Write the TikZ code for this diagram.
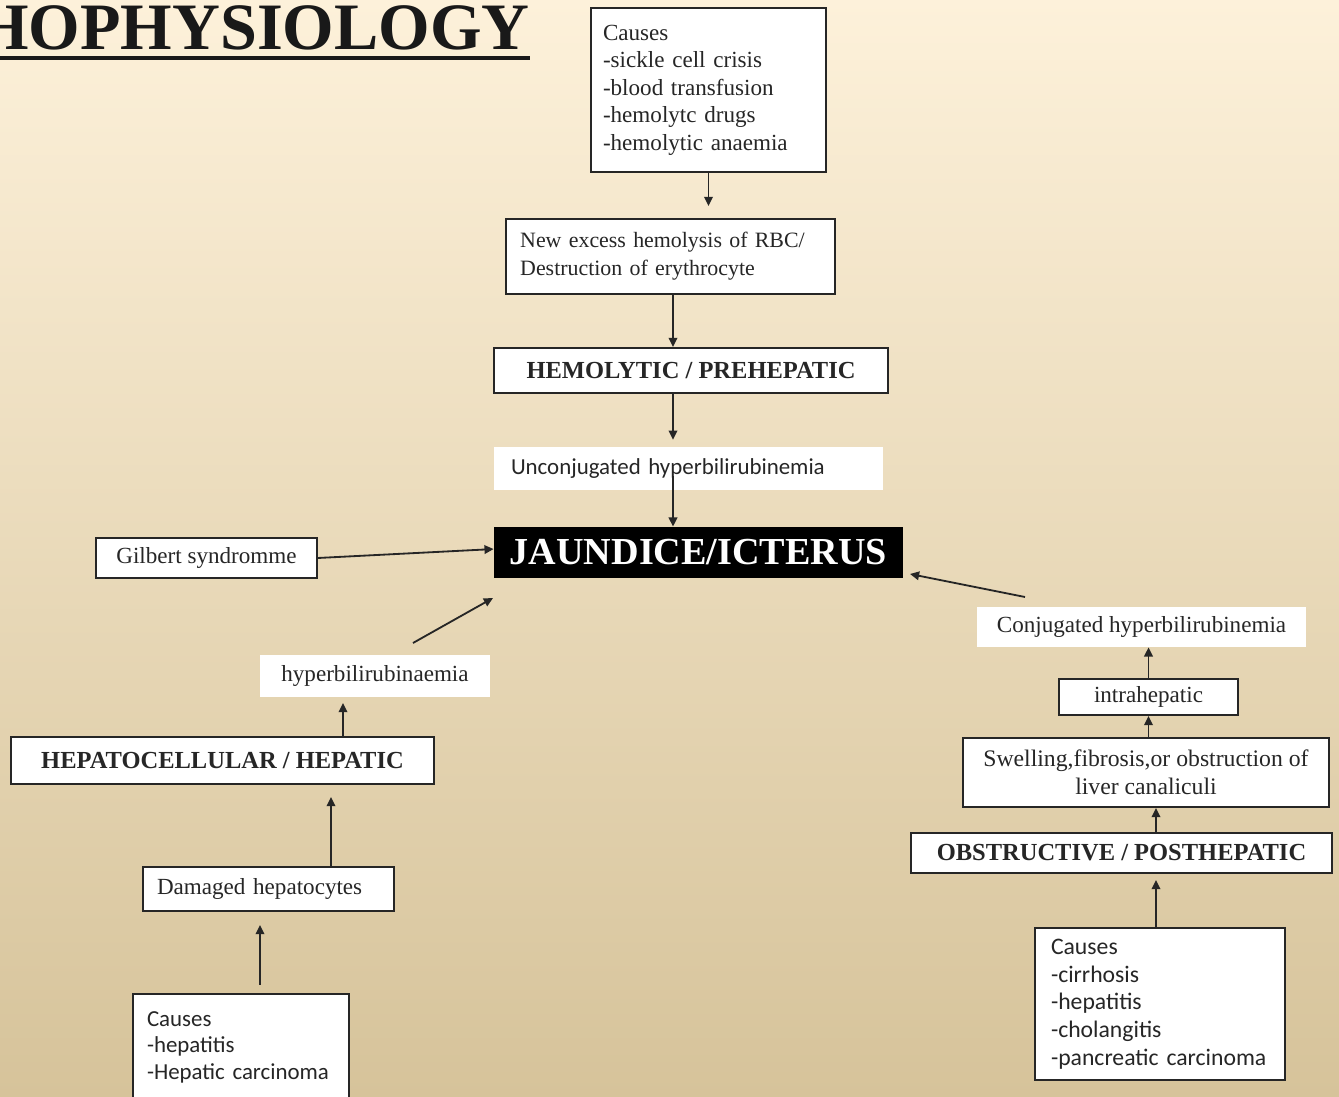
\documentclass[tikz,border=0pt]{standalone}
\usepackage{fontspec}
\setmainfont{Liberation Serif}
\newfontfamily\calibrifont{Carlito}
\usetikzlibrary{arrows.meta}

\definecolor{bgtop}{RGB}{253,241,218}
\definecolor{bgmid}{RGB}{243,231,203}
\definecolor{bgbot}{RGB}{214,195,154}
\definecolor{inkgray}{RGB}{38,38,38}

\begin{document}
\begin{tikzpicture}[
    boxnode/.style={draw=inkgray, line width=0.035cm, fill=white, inner sep=0pt, text=inkgray,
                    font=\fontsize{11.5}{14}\selectfont},
    plainnode/.style={fill=white, inner sep=0pt, text=inkgray, font=\fontsize{11.5}{14}\selectfont},
    headnode/.style={boxnode, font=\bfseries\fontsize{12.2}{14}\selectfont},
    listnode/.style={boxnode, align=left},
    sansnode/.style={listnode, font=\calibrifont\fontsize{11.4}{13.6}\selectfont},
    arrow/.style={line width=0.032cm, draw=inkgray, -{Triangle[length=0.16cm,width=0.15cm]}}]
                    \useasboundingbox (0,0) rectangle (23.432500,19.197500);%
                    \fill [top color=bgtop, middle color=bgmid, bottom color=bgbot] (0,0) rectangle (23.432500,19.197500);%

                    % Drawing title, cut at the left edge
                    \node (title) [anchor=base east, inner sep=0pt, text=black!90,
                      font=\bfseries\fontsize{33}{36}\selectfont] at (9.275000,18.322500) {HOPHYSIOLOGY};%
                    \coordinate (titleline) at (0.000000,18.182500);%
                    \draw [line width=0.07cm, black!90] (titleline) -- (titleline -| title.east);%

                    % Drawing box causes (prehepatic)
                    \node (causesA) [listnode, text width=3.692500cm, inner xsep=0.210000cm, minimum height=2.870000cm,
                      font=\fontsize{11.5}{13.7}\selectfont] at (12.398750,17.622500)
                      {Causes\\-sickle cell crisis\\-blood transfusion\\-hemolytc drugs\\-hemolytic anaemia};%

                    % Drawing box new excess hemolysis
                    \node (newexcess) [listnode, text width=5.400000cm, inner xsep=0.178750cm, minimum height=1.312500cm,
                      font=\fontsize{10.9}{14}\selectfont] at (11.733750,14.708750)
                      {\hspace*{0.07cm}New excess hemolysis of RBC/\\\hspace*{0.07cm}Destruction of erythrocyte};%

                    % Drawing box HEMOLYTIC / PREHEPATIC
                    \node (hemolytic) [headnode, minimum width=6.895000cm, minimum height=0.787500cm]
                      at (12.092500,12.713750) {HEMOLYTIC / PREHEPATIC};%

                    % Drawing label unconjugated
                    \node (unconj) [plainnode, align=left, text width=6.212500cm, inner xsep=0.297500cm, minimum height=0.752500cm,
                      font=\calibrifont\fontsize{11.4}{13.6}\selectfont] at (12.048750,10.998750) {Unconjugated hyperbilirubinemia};%

                    % Drawing box JAUNDICE/ICTERUS
                    \node (jaundice) [fill=black, inner sep=0pt, text=white, minimum width=7.157500cm, minimum height=0.892500cm,
                      font=\bfseries\fontsize{19}{22}\selectfont] at (12.223750,9.528750) {JAUNDICE/ICTERUS};%

                    % Drawing box Gilbert
                    \node (gilbert) [boxnode, minimum width=3.867500cm, minimum height=0.700000cm]
                      at (3.613750,9.432500) {Gilbert syndromme};%

                    % Drawing label hyperbilirubinaemia
                    \node (hyperbil) [plainnode, minimum width=4.025000cm, minimum height=0.735000cm]
                      at (6.562500,7.367500) {hyperbilirubinaemia};%

                    % Drawing box HEPATOCELLULAR / HEPATIC
                    \node (hepatocell) [headnode, minimum width=7.402500cm, minimum height=0.822500cm]
                      at (3.893750,5.888750) {HEPATOCELLULAR / HEPATIC};%

                    % Drawing box damaged hepatocytes
                    \node (damaged) [listnode, text width=3.902500cm, inner xsep=0.245000cm, minimum height=0.770000cm]
                      at (4.698750,3.640000) {Damaged hepatocytes};%

                    % Drawing box causes (hepatic), running off the bottom edge
                    \node (causesB) [sansnode, anchor=north west, text width=3.290000cm, inner xsep=0.245000cm,
                      minimum height=1.855000cm, font=\calibrifont\fontsize{11.4}{13.2}\selectfont]
                      at (2.310000,1.820000) {Causes\\-hepatitis\\-Hepatic carcinoma};%

                    % Drawing label conjugated
                    \node (conj) [plainnode, minimum width=5.757500cm, minimum height=0.700000cm]
                      at (19.976250,8.225000) {Conjugated hyperbilirubinemia};%

                    % Drawing box intrahepatic
                    \node (intrahep) [boxnode, minimum width=3.132500cm, minimum height=0.630000cm]
                      at (20.098750,7.000000) {intrahepatic};%

                    % Drawing box swelling
                    \node (swelling) [boxnode, align=center, minimum width=6.405000cm, minimum height=1.207500cm,
                      font=\fontsize{11.8}{14}\selectfont] at (20.055000,5.678750)
                      {Swelling,fibrosis,or obstruction of\\liver canaliculi};%

                    % Drawing box OBSTRUCTIVE / POSTHEPATIC
                    \node (obstructive) [headnode, minimum width=7.367500cm, minimum height=0.700000cm]
                      at (19.626250,4.270000) {OBSTRUCTIVE / POSTHEPATIC};%

                    % Drawing box causes (posthepatic)
                    \node (causesC) [sansnode, text width=3.815000cm, inner xsep=0.280000cm, minimum height=2.660000cm,
                      font=\calibrifont\fontsize{11.8}{13.8}\selectfont] at (20.300000,1.627500)
                      {Causes\\-cirrhosis\\-hepatitis\\-cholangitis\\-pancreatic carcinoma};%

                    % Free ends of arrows
                    \coordinate (spine) at (11.777500,10.867500);%
                    \coordinate (hyperout) at (7.227500,7.945000);%
                    \coordinate (hyperin) at (8.627500,8.732500);%
                    \coordinate (conjout) at (17.937500,8.750000);%
                    \coordinate (conjin) at (15.925000,9.152500);%
                    \coordinate (hepup) at (6.002500,6.895000);%
                    \coordinate (damup) at (5.792500,5.250000);%
                    \coordinate (causesBup) at (4.550000,3.010000);%
                    \coordinate (causesCup) at (20.230000,3.797500);%

                    % Drawing arrows, prehepatic branch
                    \draw [arrow, shorten >=0.210000cm] (causesA.south) -- (causesA.south |- newexcess.north);%
                    \draw [arrow] (spine |- newexcess.south) -- (spine |- hemolytic.north);%
                    \draw [arrow, shorten >=0.120000cm] (spine |- hemolytic.south) -- (spine |- unconj.north);%
                    \draw [arrow] (spine) -- (spine |- jaundice.north);%

                    % Drawing arrows, Gilbert and hepatic branch
                    \draw [arrow] (gilbert.east) -- ([yshift=0.060000cm]jaundice.west);%
                    \draw [arrow] (hyperout) -- (hyperin);%
                    \draw [arrow] (hepup |- hepatocell.north) -- (hepup);%
                    \draw [arrow] (damup |- damaged.north) -- (damup);%
                    \draw [arrow, shorten <=0.140000cm] (causesBup |- causesB.north) -- (causesBup);%

                    % Drawing arrows, posthepatic branch
                    \draw [arrow] (conjout) -- (conjin);%
                    \draw [arrow] (intrahep.north) -- (intrahep.north |- conj.south);%
                    \draw [arrow] (intrahep.south |- swelling.north) -- (intrahep.south);%
                    \draw [arrow] (causesCup |- obstructive.north) -- (causesCup |- swelling.south);%
                    \draw [arrow] (causesCup |- causesC.north) -- (causesCup);%
\end{tikzpicture}
\end{document}
